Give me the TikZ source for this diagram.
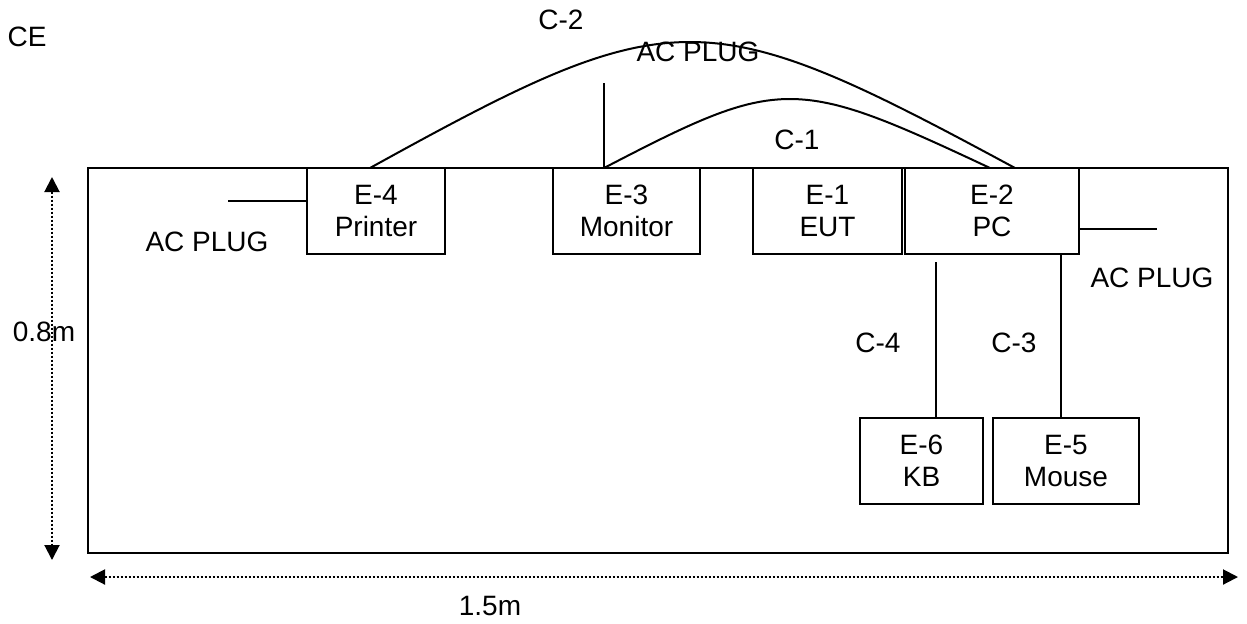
\documentclass[tikz,border=0pt]{standalone}
\usepackage{fontspec}
\setmainfont{Liberation Sans}
\usetikzlibrary{arrows.meta}
\begin{document}
\begin{tikzpicture}[x=0.5pt,y=-0.5pt, line width=1pt,
  box/.style={draw, minimum height=43pt, inner sep=0pt, align=center, font=\fontsize{14}{16}\selectfont},
  lbl/.style={inner sep=0pt, font=\fontsize{14}{16}\selectfont},
  dimline/.style={line width=1pt, dash pattern=on 1pt off 1pt,
    {Triangle[length=7.5pt,width=7.5pt]}-{Triangle[length=7.5pt,width=7.5pt]}}]
\useasboundingbox (0,0) rectangle (1247,623);
% table
\draw (88,168) rectangle (1228,553);
% equipment boxes
\node[box, minimum width=69pt]   (E4) at (376,211)   {E-4\\Printer};
\node[box, minimum width=73.5pt] (E3) at (626.5,211) {E-3\\Monitor};
\node[box, minimum width=74.5pt] (E1) at (827.5,211) {E-1\\EUT};
\node[box, minimum width=87pt]   (E2) at (992,211)   {E-2\\PC};
\node[box, minimum width=61.5pt] (E6) at (921.5,461) {E-6\\KB};
\node[box, minimum width=73pt]   (E5) at (1066,461)  {E-5\\Mouse};
% coordinates
\coordinate (c2a) at (370,168);
\coordinate (c2b) at (1015,168);
\coordinate (c1a) at (604,168);
\coordinate (c1b) at (990,168);
\coordinate (act) at (604,83);
\coordinate (acl) at (228,201);
\coordinate (acr) at (1157,229);
\coordinate (c4a) at (936,262);
\coordinate (c3a) at (1061,254);
\coordinate (vtop) at (52,177);
\coordinate (vbot) at (52,560);
\coordinate (hl) at (90,577);
\coordinate (hr) at (1238,577);
% cables
\draw (c2a) .. controls (674,0) and (704,0) .. (c2b);
\draw (c1a) .. controls (781,76) and (794,76) .. (c1b);
\draw (act) -- (c1a);
\draw (acl) -- (acl -| E4.west);
\draw (acr -| E2.east) -- (acr);
\draw (c4a) -- (c4a |- E6.north);
\draw (c3a) -- (c3a |- E5.north);
% dimensions
\draw[dimline] (vtop) -- (vbot);
\draw[dimline] (hl) -- (hr);
% labels
\node[lbl] (lce) at (27,37) {CE};
\node[lbl] (lc2) at (561,20) {C-2};
\node[lbl] (lact) at (698,52) {AC PLUG};
\node[lbl] (lc1) at (797,140) {C-1};
\node[lbl] (lacl) at (207,242) {AC PLUG};
\node[lbl] (lacr) at (1152,278) {AC PLUG};
\node[lbl] (l08) at (44,332) {0.8m};
\node[lbl] (l15) at (490,606) {1.5m};
\node[lbl] (lc4) at (878,343) {C-4};
\node[lbl] (lc3) at (1014,343) {C-3};
\end{tikzpicture}
\end{document}
